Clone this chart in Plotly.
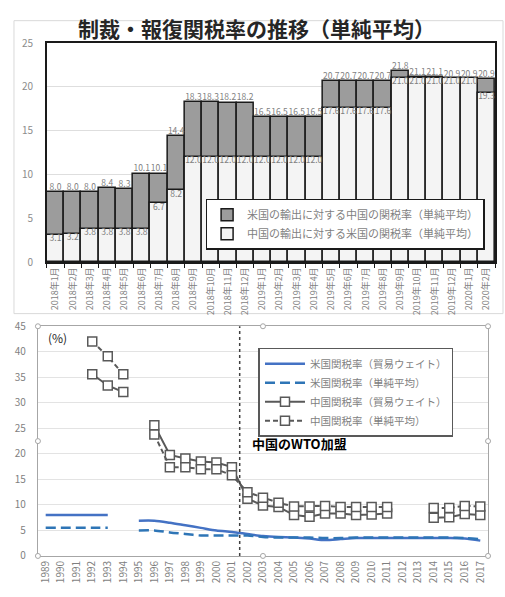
import plotly.graph_objects as go

W, H = 505, 597
FONT = "Noto Sans CJK JP"
GRAY_TXT = "#7f7f7f"

# ---- upper panel: sanction / retaliation tariffs (simple average) ----
months = [
    "2018年1月", "2018年2月", "2018年3月", "2018年4月", "2018年5月", "2018年6月",
    "2018年7月", "2018年8月", "2018年9月", "2018年10月", "2018年11月", "2018年12月",
    "2019年1月", "2019年2月", "2019年3月", "2019年4月", "2019年5月", "2019年6月",
    "2019年7月", "2019年8月", "2019年9月", "2019年10月", "2019年11月", "2019年12月",
    "2020年1月", "2020年2月",
]
china_on_us = [8.0, 8.0, 8.0, 8.4, 8.3, 10.1, 10.1, 14.4, 18.3, 18.3, 18.2, 18.2,
               16.5, 16.5, 16.5, 16.5, 20.7, 20.7, 20.7, 20.7, 21.8, 21.1, 21.1,
               20.9, 20.9, 20.9]
us_on_china = [3.1, 3.2, 3.8, 3.8, 3.8, 3.8, 6.7, 8.2, 12.0, 12.0, 12.0, 12.0,
               12.0, 12.0, 12.0, 12.0, 17.6, 17.6, 17.6, 17.6, 21.0, 21.0, 21.0,
               21.0, 21.0, 19.3]
name_china_on_us = "米国の輸出に対する中国の関税率（単純平均）"
name_us_on_china = "中国の輸出に対する米国の関税率（単純平均）"

# ---- lower panel: long-run tariff rates ----
years = [str(y) for y in range(1989, 2018)]
us_weighted = [8.0, 8.0, 8.0, 8.0, 8.0, None,
               6.9, 6.9, 6.5, 6.0, 5.5, 5.0, 4.7, 4.3, 3.9, 3.7, 3.6, 3.4, 3.1,
               3.3, 3.5, 3.5, 3.5, 3.5, 3.5, 3.5, 3.5, 3.4, 3.0]
us_simple = [5.5, 5.5, 5.5, 5.5, 5.5, None,
             5.0, 5.0, 4.6, 4.3, 4.0, 4.0, 4.0, 4.0, 3.7, 3.6, 3.6, 3.6, 3.5,
             3.5, 3.6, 3.6, 3.6, 3.6, 3.6, 3.6, 3.6, 3.5, 3.3]
cn_weighted = [None, None, None, 35.6, 33.4, 32.1, None,
               25.6, 19.8, 19.1, 18.5, 18.3, 17.4, 11.2, 9.9, 9.6, 8.0, 7.7, 8.3,
               8.3, 8.0, 8.1, 8.3, None, None, 7.5, 7.6, 8.2, 8.0]
cn_simple = [None, None, None, 42.0, 39.1, 35.6, None,
             23.8, 17.4, 17.4, 17.0, 17.0, 15.8, 12.5, 11.4, 10.4, 9.7, 9.7, 9.8,
             9.6, 9.6, 9.6, 9.6, None, None, 9.4, 9.4, 9.8, 9.7]
wto_year_before = "2001"


def px_x(p):
    return p / W


def px_y(p):
    return 1 - p / H


fig = go.Figure()

# overlapping bars: grey behind, light bars in front
fig.add_trace(go.Bar(
    x=months, y=china_on_us, name=name_china_on_us, width=1,
    marker=dict(color="#9c9c9c", line=dict(color="#1a1a1a", width=1.5)),
    xaxis="x", yaxis="y", legend="legend"))
fig.add_trace(go.Bar(
    x=months, y=us_on_china, name=name_us_on_china, width=1,
    marker=dict(color="#f4f4f4", line=dict(color="#1a1a1a", width=1.5)),
    xaxis="x", yaxis="y", legend="legend"))
fig.add_trace(go.Scatter(
    x=months, y=china_on_us, mode="text", texttemplate="%{y:.1f}",
    textposition="top center", textfont=dict(size=8.5, color=GRAY_TXT, family=FONT),
    showlegend=False, hoverinfo="skip", xaxis="x", yaxis="y", cliponaxis=False))
fig.add_trace(go.Scatter(
    x=months, y=us_on_china, mode="text", texttemplate="%{y:.1f}",
    textposition="bottom center", textfont=dict(size=8.5, color=GRAY_TXT, family=FONT),
    showlegend=False, hoverinfo="skip", xaxis="x", yaxis="y"))

# lower panel lines
fig.add_trace(go.Scatter(
    x=years, y=us_weighted, name="米国関税率（貿易ウェイト）", mode="lines",
    line=dict(color="#4472c4", width=2.5, shape="spline", smoothing=0.8),
    xaxis="x2", yaxis="y2", legend="legend2"))
fig.add_trace(go.Scatter(
    x=years, y=us_simple, name="米国関税率（単純平均）", mode="lines",
    line=dict(color="#2e75b6", width=2.5, dash="10px,5px", shape="spline", smoothing=0.8),
    xaxis="x2", yaxis="y2", legend="legend2"))
fig.add_trace(go.Scatter(
    x=years, y=cn_weighted, name="中国関税率（貿易ウェイト）", mode="lines+markers",
    line=dict(color="#595959", width=2),
    marker=dict(symbol="square", size=9, color="white", line=dict(color="#595959", width=1.5)),
    xaxis="x2", yaxis="y2", legend="legend2"))
fig.add_trace(go.Scatter(
    x=years, y=cn_simple, name="中国関税率（単純平均）", mode="lines+markers",
    line=dict(color="#595959", width=2, dash="5px,3px"),
    marker=dict(symbol="square", size=9, color="white", line=dict(color="#595959", width=1.5)),
    xaxis="x2", yaxis="y2", legend="legend2"))

wto_x = years.index(wto_year_before) + 0.5

shapes = [
    # outer frame of the upper chart
    dict(type="rect", xref="paper", yref="paper", x0=px_x(13), x1=px_x(503),
         y0=px_y(313), y1=px_y(12), line=dict(color="#d9d9d9", width=1), layer="below"),
    # WTO accession marker
    dict(type="line", xref="x2", yref="y2 domain", x0=wto_x, x1=wto_x, y0=0, y1=1,
         line=dict(color="#404040", width=1.5, dash="dot")),
]
# selection handles on the lower plot frame
for hx in (0, 0.5, 1):
    for hy in (0, 0.5, 1):
        if hx == 0.5 and hy == 0.5:
            continue
        shapes.append(dict(
            type="circle", xref="x2 domain", yref="y2 domain",
            xsizemode="pixel", ysizemode="pixel", xanchor=hx, yanchor=hy,
            x0=-2.5, x1=2.5, y0=-2.5, y1=2.5,
            line=dict(color="#a6a6a6", width=1), fillcolor="white"))

annotations = [
    dict(text="<b>制裁・報復関税率の推移（単純平均）</b>", xref="paper", yref="paper",
         x=px_x(256), y=px_y(20), showarrow=False, xanchor="center", yanchor="middle",
         font=dict(size=21, color="#262626", family=FONT)),
    dict(text="<b>中国のWTO加盟</b>", xref="x2", yref="y2", x=wto_x, y=22.0,
         xshift=10, xanchor="left", yanchor="middle", showarrow=False,
         font=dict(size=13, color="#000000", family=FONT)),
    dict(text="(%)", xref="x2 domain", yref="y2 domain", x=0.018, y=0.95,
         xanchor="left", yanchor="middle", showarrow=False,
         font=dict(size=12, color="#262626", family=FONT)),
]

fig.update_layout(
    width=W, height=H, autosize=False,
    margin=dict(l=0, r=0, t=0, b=0),
    paper_bgcolor="white", plot_bgcolor="white",
    font=dict(family=FONT, color=GRAY_TXT),
    barmode="overlay", bargap=0,
    xaxis=dict(domain=[px_x(46), px_x(495)], type="category", range=[-0.5, 25.5],
               showline=True, linecolor="#1a1a1a", linewidth=1.5, mirror=True,
               ticks="outside", tickson="boundaries", ticklen=4, tickcolor="#1a1a1a",
               tickangle=-90, tickfont=dict(size=9, color=GRAY_TXT),
               showgrid=False, fixedrange=True),
    yaxis=dict(domain=[px_y(260), px_y(35)], range=[0, 25], dtick=5,
               showline=True, linecolor="#1a1a1a", linewidth=1.5, mirror=True,
               gridcolor="#dedede", zeroline=False, ticks="",
               ticklabelstandoff=10, tickfont=dict(size=10, color="#8c8c8c")),
    xaxis2=dict(domain=[px_x(37), px_x(488)], type="category", range=[-0.5, 28.5],
                anchor="y2", showline=True, linecolor="#a6a6a6", linewidth=1, mirror=True,
                ticks="", tickangle=-90, tickfont=dict(size=10, color=GRAY_TXT),
                showgrid=False),
    yaxis2=dict(domain=[px_y(562), px_y(326)], anchor="x2", range=[0, 45], dtick=5,
                showline=True, linecolor="#a6a6a6", linewidth=1, mirror=True,
                gridcolor="#e3e3e3", zeroline=False, ticks="",
                ticklabelstandoff=9, tickfont=dict(size=10, color=GRAY_TXT)),
    legend=dict(x=px_x(205), y=px_y(195), xanchor="left", yanchor="top",
                bgcolor="white", bordercolor="#1a1a1a", borderwidth=1.5,
                font=dict(size=11, color=GRAY_TXT, family=FONT),
                traceorder="normal", itemwidth=30),
    legend2=dict(x=px_x(258), y=px_y(348), xanchor="left", yanchor="top",
                 bgcolor="white", bordercolor="#595959", borderwidth=1.5,
                 font=dict(size=10.5, color=GRAY_TXT, family=FONT),
                 traceorder="normal", itemwidth=40),
    shapes=shapes, annotations=annotations,
    showlegend=True,
)

fig.write_html("out.html")
